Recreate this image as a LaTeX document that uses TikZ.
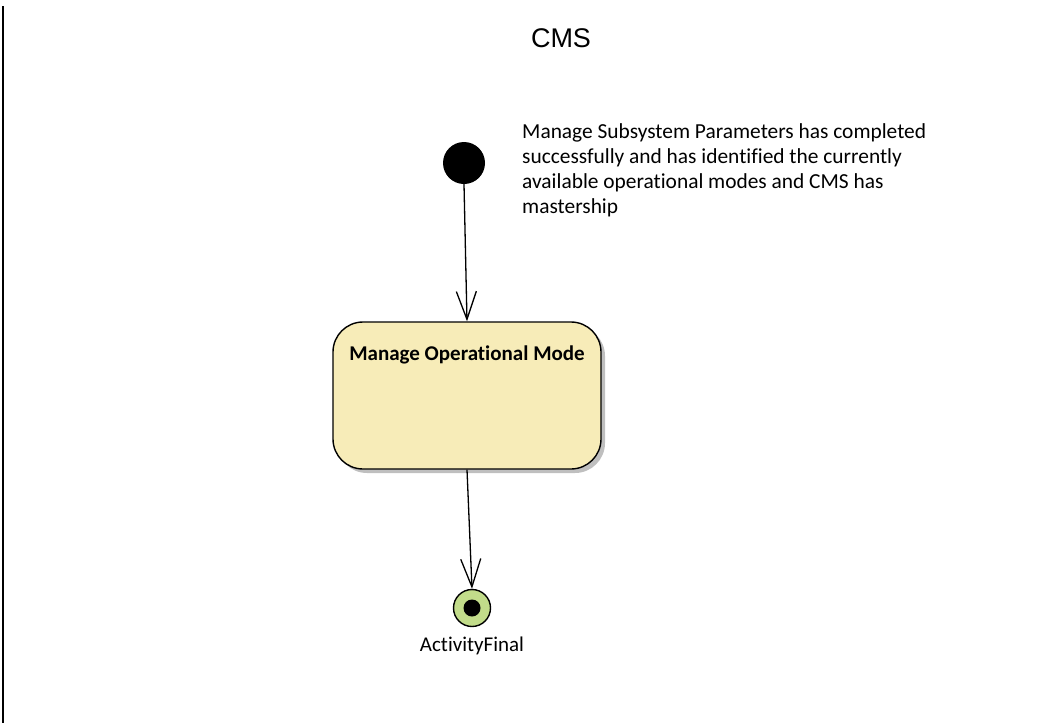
\documentclass[tikz,border=0pt]{standalone}
\usepackage{fontspec}
\setmainfont{Carlito}[Ligatures=NoCommon]
\newfontfamily\titlefont{Liberation Sans}
\usetikzlibrary{arrows.meta,shadows}
\definecolor{actfill}{HTML}{F7ECB8}
\definecolor{finalfill}{HTML}{C2DC8A}
\tikzset{
  flow/.style={line width=1.3pt, -{Straight Barb[length=28pt,width=20pt,line width=1.3pt]}},
  action/.style={draw, line width=1.4pt, rounded corners=30pt, fill=actfill,
    minimum width=268pt, minimum height=147pt, inner sep=0pt,
    drop shadow={shadow xshift=4pt, shadow yshift=-4pt, opacity=0.25, fill=black}},
  startnode/.style={circle, fill=black, minimum size=42pt, inner sep=0pt},
  endnode/.style={circle, draw, line width=1.4pt, fill=finalfill, minimum size=37pt, inner sep=0pt},
  lbl/.style={font=\fontsize{21}{25}\selectfont, inner sep=0pt}
}
\begin{document}
\begin{tikzpicture}[x=1pt, y=-1pt]
  \useasboundingbox (0,0) rectangle (1064,723);
  % frame edge on the left
  \draw[line width=1.3pt] (3,6) -- (3,723);
  % title
  \node[font=\titlefont\fontsize{27}{30}\selectfont] (title) at (561,38) {CMS};
  % initial node and its note
  \node[startnode] (start) at (464,163) {};
  \node[lbl, font=\fontsize{21.4}{25.3}\selectfont, anchor=north west, align=left] (note) at (522,123)
    {Manage Subsystem Parameters has completed\\
     successfully and has identified the currently\\
     available operational modes and CMS has\\
     mastership};
  % action
  \node[action] (act) at (467,395.5) {};
  \node[lbl, font=\bfseries\fontsize{21}{25}\selectfont] (actlbl) at (467,355) {Manage Operational Mode};
  % final node
  \node[endnode] (final) at (472,608) {};
  \fill (final.center) circle (8.5pt);
  \node[lbl, anchor=north] (finallbl) at (472,637) {ActivityFinal};
  % transitions
  \draw[flow] (start.south) -- (act.north);
  \draw[flow] (act.south) -- (final.north);
\end{tikzpicture}
\end{document}
